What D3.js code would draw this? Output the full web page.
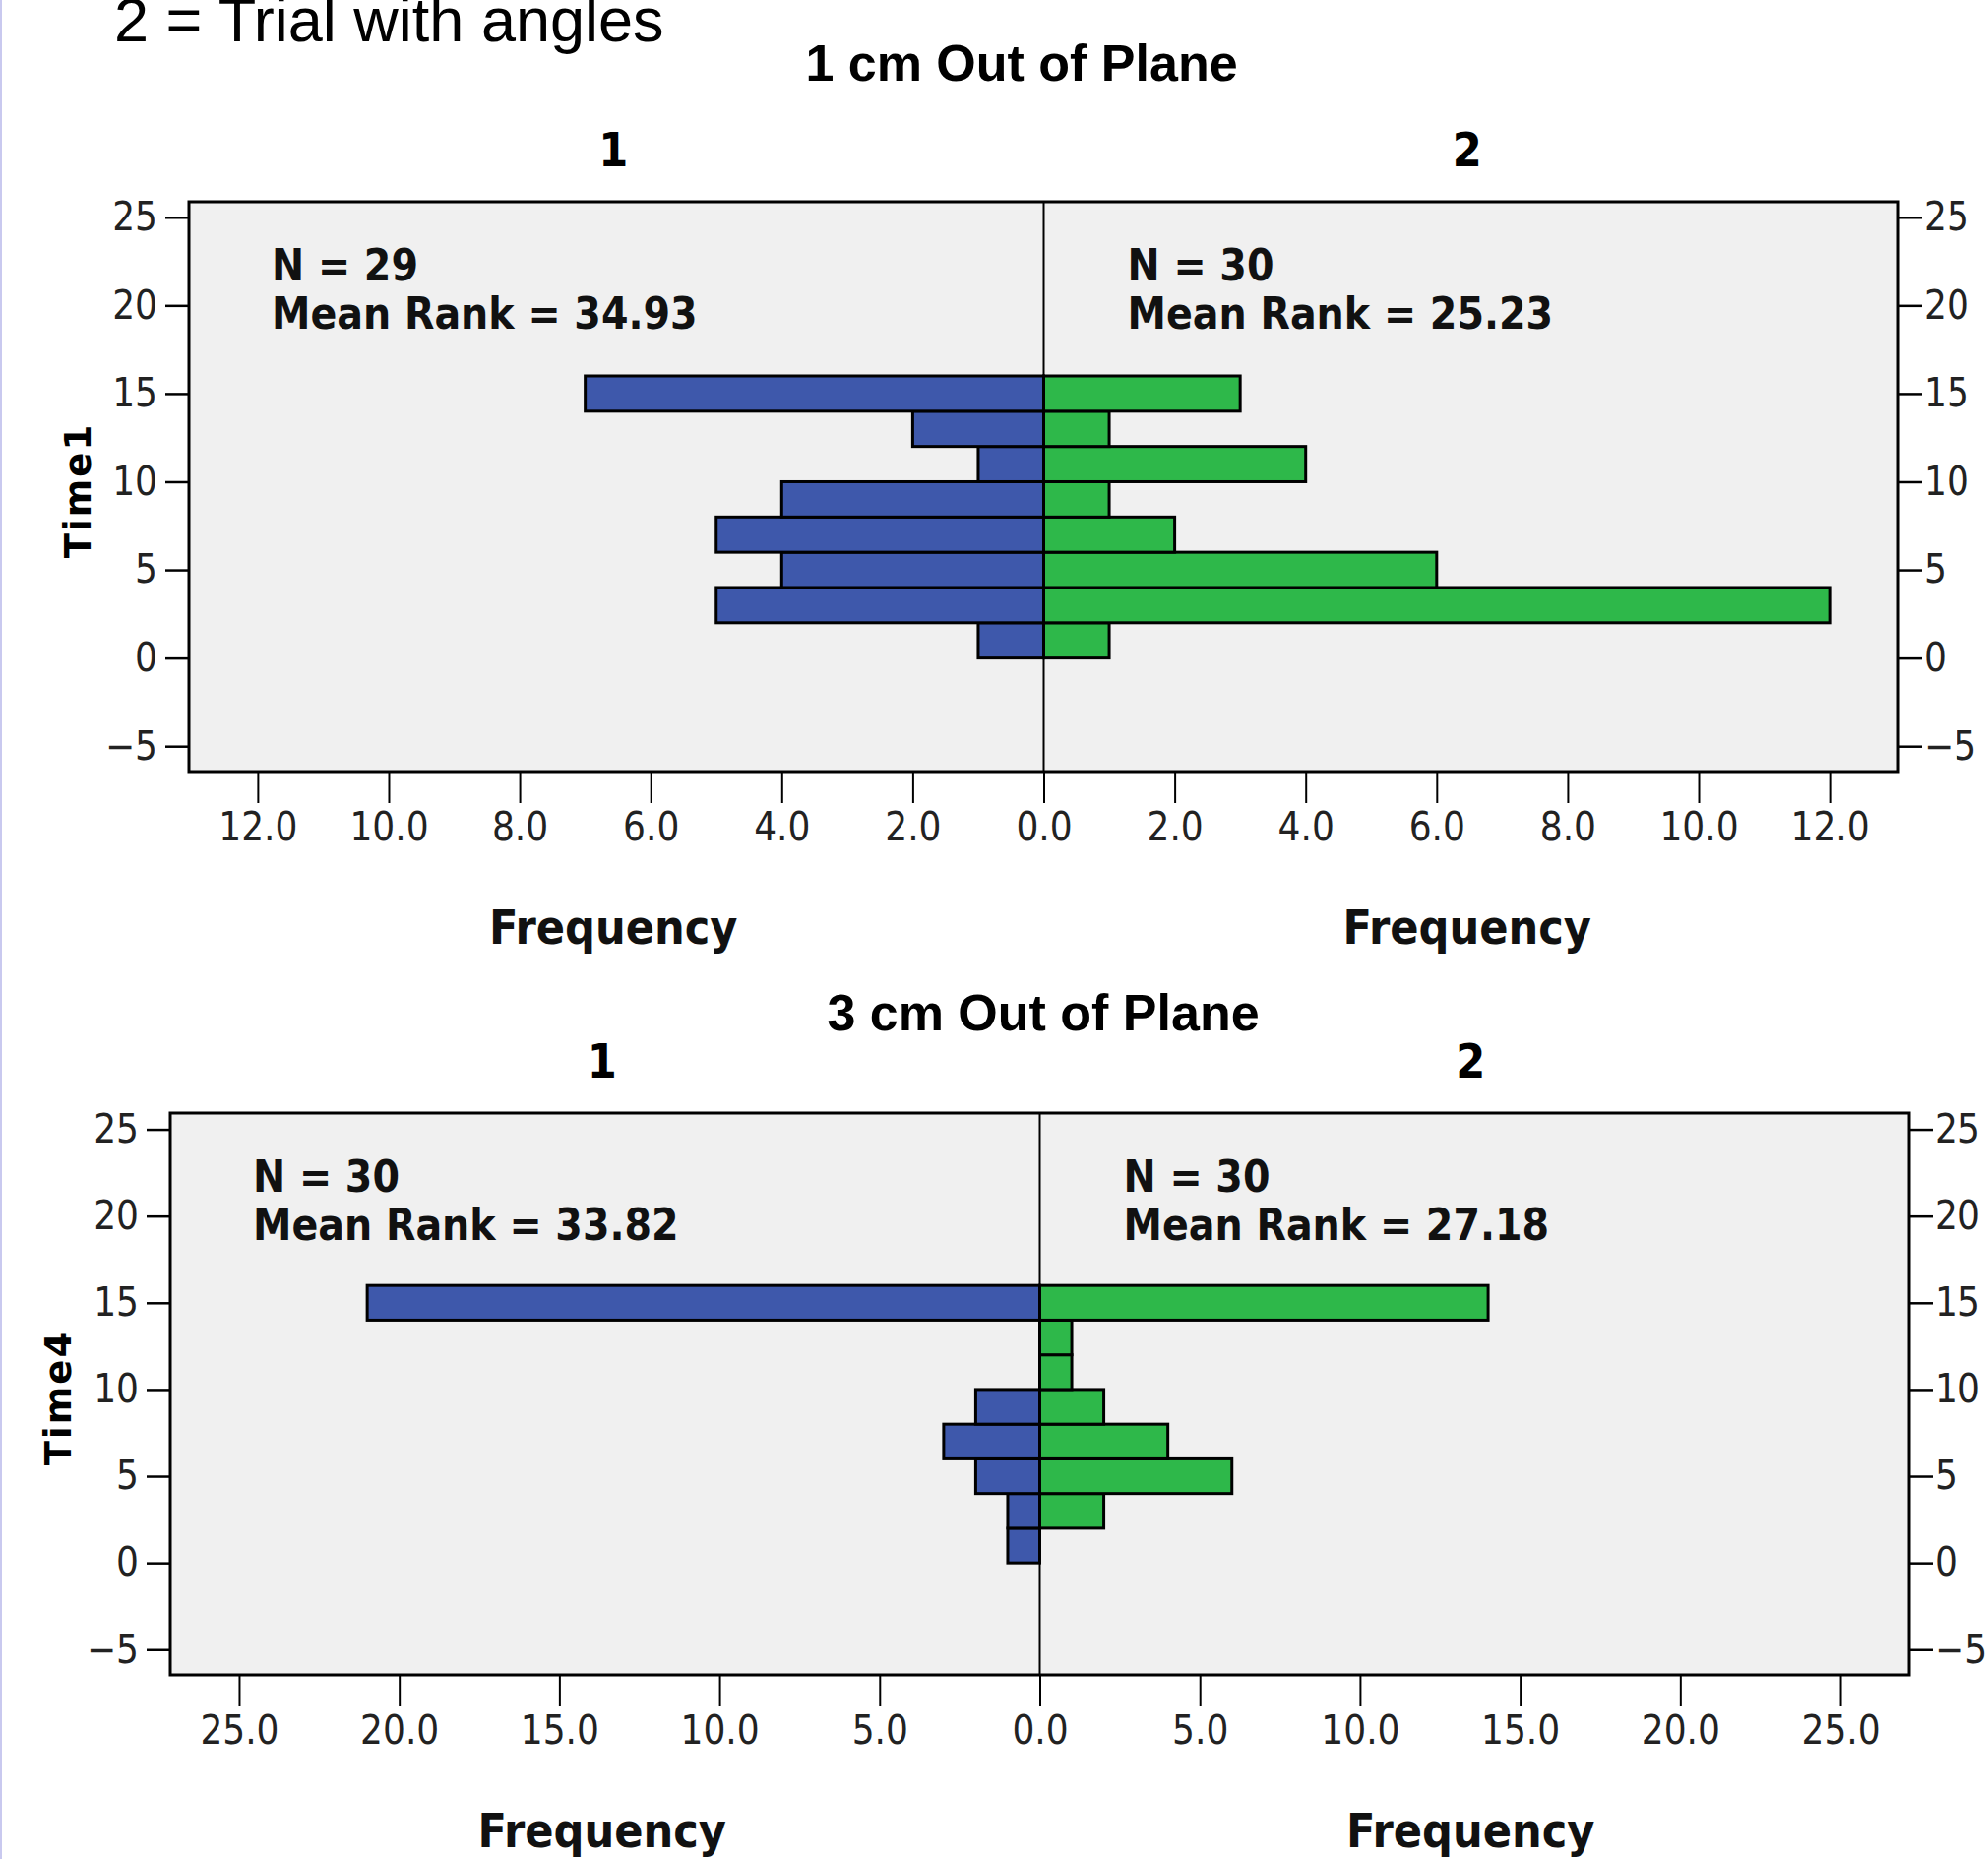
<!DOCTYPE html>
<html>
<head>
<meta charset="utf-8">
<script src="https://cdn.jsdelivr.net/npm/d3@7"></script>
<style>
  body { margin: 0; background: #fff; }
  svg { display: block; }
  .tick text { font-family: "DejaVu Sans", sans-serif; font-stretch: condensed; }
</style>
</head>
<body>
<svg id="chart" width="2020" height="1889"></svg>
<script>
// bins of Time (lower edge, width 2)
var binStart = [0, 2, 4, 6, 8, 10, 12, 14];
var binWidth = 2;

// 1 cm Out of Plane (Time1)
var time1Group1 = [1, 5, 4, 5, 4, 1, 2, 7];
var time1Group2 = [1, 12, 6, 2, 1, 4, 1, 3];
// 3 cm Out of Plane (Time4)
var time4Group1 = [1, 1, 2, 3, 2, 0, 0, 21];
var time4Group2 = [0, 2, 6, 4, 2, 1, 1, 14];

var yTicks = [-5, 0, 5, 10, 15, 20, 25];
var xTicks1 = [-12, -10, -8, -6, -4, -2, 0, 2, 4, 6, 8, 10, 12];
var xTicks4 = [-25, -20, -15, -10, -5, 0, 5, 10, 15, 20, 25];

var stats1 = [["N = 29", "Mean Rank = 34.93"], ["N = 30", "Mean Rank = 25.23"]];
var stats4 = [["N = 30", "Mean Rank = 33.82"], ["N = 30", "Mean Rank = 27.18"]];

var groupNames = ["1", "2"];
var blue = "#3e58ab", green = "#2eb84a";

var svg = d3.select("#chart");

// faint border at the left edge of the slide
svg.append("line").attr("x1", 1).attr("x2", 1).attr("y1", 0).attr("y2", 1889)
   .style("stroke", "#c9c9ef").style("stroke-width", 2);

svg.append("text")
   .attr("x", 116).attr("y", 42)
   .style("font-family", "'Liberation Sans', Arial, sans-serif")
   .style("font-size", "63px")
   .text("2 = Trial with angles");

function drawPanel(p) {
  var x = d3.scaleLinear().domain([-p.xMax, p.xMax]).range([p.left, p.right]);
  var y = d3.scaleLinear().domain(p.yDomain).range([p.bottom, p.top]);
  var g = svg.append("g");
  // centre of each half, for the group and Frequency labels
  var halfX = (d, i) => i == 0 ? (p.left + x(0)) / 2 - 3 : (x(0) + p.right) / 2 - 4;

  g.append("text")
   .attr("x", p.titleX).attr("y", p.titleY)
   .attr("text-anchor", "middle")
   .style("font-family", "'Liberation Sans', Arial, sans-serif")
   .style("font-weight", "bold")
   .style("font-size", "52px")
   .text(p.title);

  g.selectAll("text.grp")
   .data(groupNames)
   .enter().append("text")
   .attr("class", "grp")
   .attr("x", halfX)
   .attr("y", p.grpY)
   .attr("text-anchor", "middle")
   .style("font-family", "'DejaVu Sans', sans-serif")
   .style("font-stretch", "condensed")
   .style("font-weight", "bold")
   .style("font-size", "48px")
   .text(d => d);

  g.append("rect")
   .attr("x", p.left).attr("y", p.top)
   .attr("width", p.right - p.left).attr("height", p.bottom - p.top)
   .style("fill", "#f0f0f0").style("stroke", "none");

  var data = binStart.map((b, i) => ({ b: b, v1: p.g1[i], v2: p.g2[i] }));

  g.selectAll("rect.left")
   .data(data.filter(d => d.v1 > 0))
   .enter().append("rect")
   .attr("class", "left")
   .attr("x", d => x(-d.v1))
   .attr("y", d => y(d.b + binWidth))
   .attr("width", d => x(0) - x(-d.v1))
   .attr("height", d => y(d.b) - y(d.b + binWidth))
   .style("fill", blue).style("stroke", "#000").style("stroke-width", 3);

  g.selectAll("rect.right")
   .data(data.filter(d => d.v2 > 0))
   .enter().append("rect")
   .attr("class", "right")
   .attr("x", x(0))
   .attr("y", d => y(d.b + binWidth))
   .attr("width", d => x(d.v2) - x(0))
   .attr("height", d => y(d.b) - y(d.b + binWidth))
   .style("fill", green).style("stroke", "#000").style("stroke-width", 3);

  g.append("line")
   .attr("x1", x(0)).attr("x2", x(0)).attr("y1", p.top).attr("y2", p.bottom)
   .style("stroke", "#000").style("stroke-width", 2);

  g.append("rect")
   .attr("x", p.left).attr("y", p.top)
   .attr("width", p.right - p.left).attr("height", p.bottom - p.top)
   .style("fill", "none").style("stroke", "#000").style("stroke-width", 3);

  // stats text
  p.stats.forEach(function(s, i) {
    var tx = i == 0 ? p.left + 84 : x(0) + 85;
    var t = g.append("text")
     .attr("x", tx).attr("y", p.top + 80)
     .style("font-family", "'DejaVu Sans', sans-serif")
     .style("font-stretch", "condensed")
     .style("font-weight", "bold")
     .style("font-size", "44px")
     .style("fill", "#111");
    t.append("tspan").attr("x", tx).text(s[0]);
    t.append("tspan").attr("x", tx).attr("dy", 49).text(s[1]);
  });

  // axes
  var yl = g.append("g").attr("transform", "translate(" + p.left + ",0)")
   .call(d3.axisLeft(y).tickValues(yTicks).tickSize(24).tickPadding(8));
  var yr = g.append("g").attr("transform", "translate(" + p.right + ",0)")
   .call(d3.axisRight(y).tickValues(yTicks).tickSize(24).tickPadding(2));
  var xa = g.append("g").attr("transform", "translate(0," + p.bottom + ")")
   .call(d3.axisBottom(x).tickValues(p.xTicks).tickSize(32).tickPadding(10)
     .tickFormat(d => d3.format(".1f")(Math.abs(d))));

  [yl, yr, xa].forEach(function(a) {
    a.select(".domain").remove();
    a.selectAll(".tick line").style("stroke", "#000").style("stroke-width", 2.5);
    a.selectAll(".tick text").style("font-size", "40px").style("fill", "#222");
  });
  xa.selectAll(".tick line").style("stroke-width", 2);

  g.append("text")
   .attr("transform", "translate(" + p.yLabX + "," + ((p.top + p.bottom) / 2 + 4) + ") rotate(-90)")
   .attr("text-anchor", "middle")
   .style("font-family", "'DejaVu Sans', sans-serif")
   .style("font-weight", "bold")
   .style("font-size", "37px")
   .style("letter-spacing", "2px")
   .text(p.yLabel);

  g.selectAll("text.freq")
   .data(groupNames)
   .enter().append("text")
   .attr("class", "freq")
   .attr("x", halfX)
   .attr("y", p.bottom + 175)
   .attr("text-anchor", "middle")
   .style("font-family", "'DejaVu Sans', sans-serif")
   .style("font-stretch", "condensed")
   .style("font-weight", "bold")
   .style("font-size", "48px")
   .style("fill", "#111")
   .text("Frequency");
}

drawPanel({
  title: "1 cm Out of Plane", titleX: 1038, titleY: 82, grpY: 169,
  left: 192, right: 1929, top: 205, bottom: 784,
  yDomain: [-6.44, 25.88], xMax: 13.05, xTicks: xTicks1,
  g1: time1Group1, g2: time1Group2, stats: stats1, yLabel: "Time1", yLabX: 92
});

drawPanel({
  title: "3 cm Out of Plane", titleX: 1060, titleY: 1047, grpY: 1095,
  left: 173, right: 1940, top: 1131, bottom: 1702,
  yDomain: [-6.46, 25.94], xMax: 27.15, xTicks: xTicks4,
  g1: time4Group1, g2: time4Group2, stats: stats4, yLabel: "Time4", yLabX: 72
});
</script>
</body>
</html>
